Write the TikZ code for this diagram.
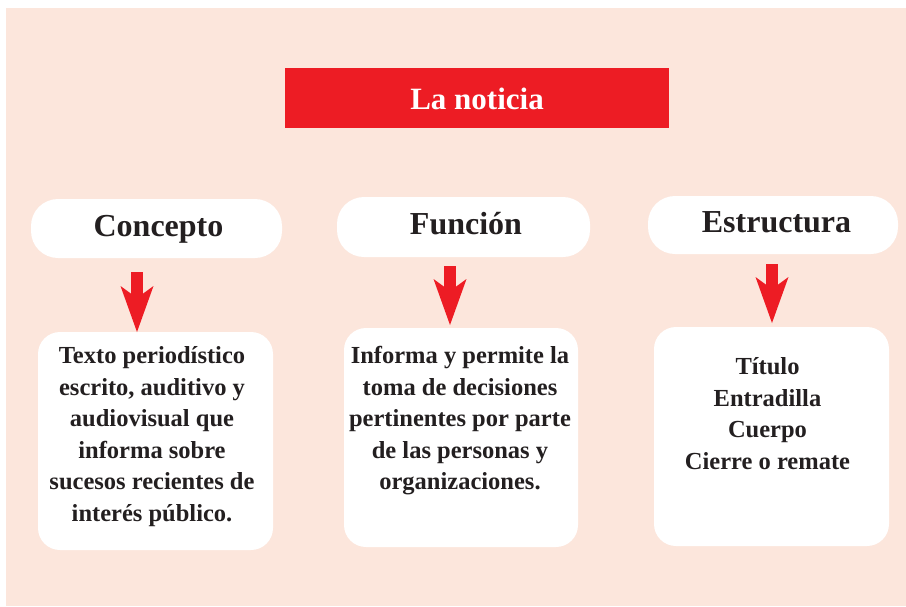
\documentclass[tikz,border=0pt]{standalone}
\usepackage{fontspec}
\setmainfont{Liberation Serif}
\usetikzlibrary{arrows.meta,calc}
\definecolor{peach}{HTML}{FCE6DC}
\definecolor{newsred}{HTML}{ED1C24}
\definecolor{ink}{HTML}{231F20}
\begin{document}
\begin{tikzpicture}[x=1pt,y=-1pt,
 pill/.style={fill=white, rounded corners=27pt, inner sep=0pt,
   font=\fontsize{32}{38}\selectfont\bfseries, text=ink, text height=15pt, text depth=0pt},
 card/.style={fill=white, rounded corners=22pt, inner sep=0pt},
 cardtext/.style={font=\fontsize{24.5}{31.5}\selectfont\bfseries, text=ink, align=center, inner sep=0pt, anchor=north},
 bigarrow/.style={draw=newsred, line width=12pt, -{Stealth[length=46pt,width=33pt,inset=12pt,line width=0pt]}}
]
\useasboundingbox (0,0) rectangle (906,606);
\fill[peach] (6,8) rectangle (906,606);

\node[fill=newsred, minimum width=384pt, minimum height=60pt, inner sep=0pt, text=white,
  font=\fontsize{31}{37}\selectfont\bfseries, text height=22pt, text depth=0pt] (title) at (477,98) {La noticia\hspace{14pt}};

\node[pill, minimum width=251pt, minimum height=59pt] (p1) at (156.5,228.5) {\hspace{4pt}Concepto};
\node[pill, minimum width=253pt, minimum height=60pt] (p2) at (463.5,227) {\hspace{5pt}Función};
\node[pill, minimum width=250pt, minimum height=58pt] (p3) at (773,225) {\hspace{7pt}Estructura};

\node[card, minimum width=235pt, minimum height=218pt] (c1) at (155.5,441) {};
\node[card, minimum width=234pt, minimum height=219pt] (c2) at (461,437.5) {};
\node[card, minimum width=235pt, minimum height=219pt] (c3) at (771.5,436.5) {};

\node[cardtext] (t1) at ($(c1.north)+(-3.5,14.5)$) {Texto periodístico\\escrito, auditivo y\\audiovisual que\\informa sobre\\sucesos recientes de\\interés público.};
\node[cardtext] (t2) at ($(c2.north)+(-1,18.5)$) {Informa y permite la\\toma de decisiones\\pertinentes por parte\\de las personas y\\organizaciones.};
\node[cardtext] (t3) at ($(c3.north)+(-4,30.5)$) {Título\\Entradilla\\Cuerpo\\Cierre o remate};

\coordinate (a1s) at (137,272);
\coordinate (a1e) at (137,332);
\coordinate (a2s) at (450,266);
\coordinate (a2e) at (450,325);
\coordinate (a3s) at (772,264);
\coordinate (a3e) at (772,323);
\draw[bigarrow] (a1s) -- (a1e);
\draw[bigarrow] (a2s) -- (a2e);
\draw[bigarrow] (a3s) -- (a3e);
\end{tikzpicture}
\end{document}
